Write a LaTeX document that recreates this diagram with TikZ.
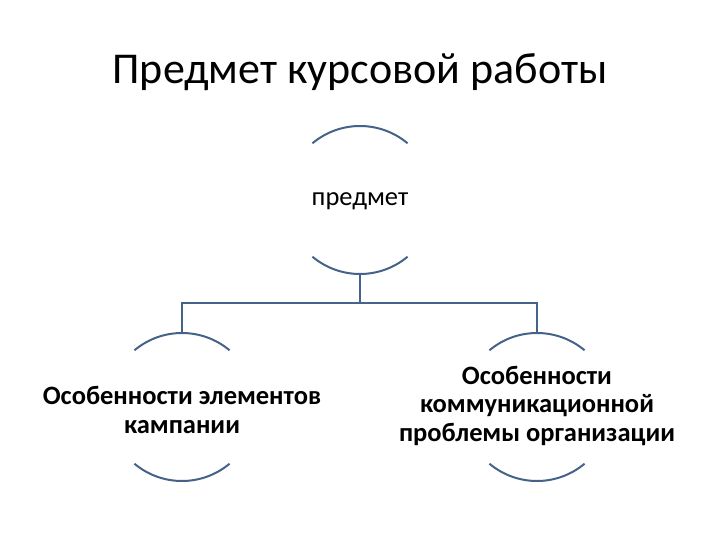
\documentclass[tikz,border=0pt]{standalone}
\usepackage{fontspec}
\setmainfont{Carlito}
\definecolor{arcblue}{RGB}{68,98,138}
\begin{document}
\begin{tikzpicture}[x=1pt,y=-1pt,
  arcline/.style={draw=arcblue,line width=2pt},
  conn/.style={draw=arcblue,line width=1.6pt},
  lbl/.style={align=center,font=\fontsize{26.5}{28.5}\selectfont\bfseries,inner sep=0pt}]
\useasboundingbox (0,0) rectangle (720,540);
\node[inner sep=0pt,font=\fontsize{44}{52}\selectfont] (title) at (360,72) {Предмет курсовой работы};
\coordinate (c0) at (360,200);
\coordinate (c1) at (182,407);
\coordinate (c2) at (537,407);
\foreach \c in {c0,c1,c2}{
  \draw[arcline] (\c) ++(130:74) arc[start angle=130,end angle=50,radius=74];
  \draw[arcline] (\c) ++(230:74) arc[start angle=230,end angle=310,radius=74];
}
\node[inner sep=0pt,font=\fontsize{26.5}{30}\selectfont] (n0) at (360,201) {предмет};
\node[lbl] (n1) at (182,410) {Особенности элементов\\кампании};
\node[lbl] (n2) at (537,406) {Особенности\\коммуникационной\\проблемы организации};
\coordinate (b0) at (360,274);
\coordinate (t1) at (182,333);
\coordinate (t2) at (537,333);
\draw[conn] (b0) -- (360,303);
\draw[conn] (t1) |- (360,303) -| (t2);
\end{tikzpicture}
\end{document}
